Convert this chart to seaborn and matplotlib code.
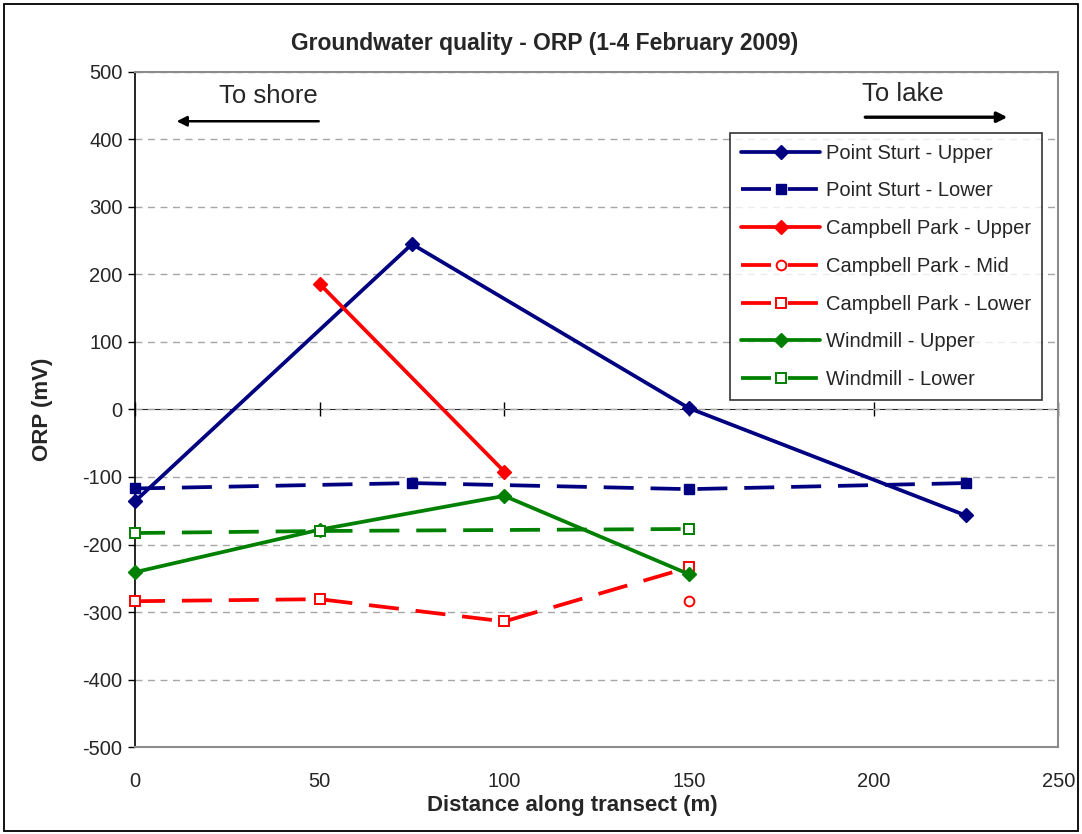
import matplotlib
matplotlib.use('Agg')
import matplotlib.pyplot as plt
import matplotlib.patches as patches
import seaborn as sns
import pandas as pd

# data
ps_upper_x = [0, 75, 150, 225]
ps_upper_y = [-136, 245, 2, -157]
ps_lower_x = [0, 75, 150, 225]
ps_lower_y = [-117, -109, -118, -109]
cp_upper_x = [50, 100]
cp_upper_y = [186, -92]
cp_mid_x = [150]
cp_mid_y = [-284]
cp_lower_x = [0, 50, 100, 150]
cp_lower_y = [-284, -281, -314, -234]
wm_upper_x = [0, 50, 100, 150]
wm_upper_y = [-241, -178, -128, -244]
wm_lower_x = [0, 50, 150]
wm_lower_y = [-183, -180, -177]

NAVY = '#000080'
RED = '#ff0000'
GREEN = '#008000'
DASH = (0, (8, 4.5))

series = [
    ('Point Sturt - Upper', ps_upper_x, ps_upper_y, NAVY, 'D', '-', True),
    ('Point Sturt - Lower', ps_lower_x, ps_lower_y, NAVY, 's', DASH, True),
    ('Campbell Park - Upper', cp_upper_x, cp_upper_y, RED, 'D', '-', True),
    ('Campbell Park - Mid', cp_mid_x, cp_mid_y, RED, 'o', DASH, False),
    ('Campbell Park - Lower', cp_lower_x, cp_lower_y, RED, 's', DASH, False),
    ('Windmill - Upper', wm_upper_x, wm_upper_y, GREEN, 'D', '-', True),
    ('Windmill - Lower', wm_lower_x, wm_lower_y, GREEN, 's', DASH, False),
]

sns.set_style('white')
plt.rcParams['font.family'] = ['Liberation Sans', 'DejaVu Sans']
plt.rcParams['axes.unicode_minus'] = False

fig = plt.figure(figsize=(10.82, 8.34), dpi=100)
ax = fig.add_axes([0.1248, 0.1043, 0.978 - 0.1248, 0.9137 - 0.1043])

for name, xs, ys, col, mk, ls, filled in series:
    df = pd.DataFrame({'x': xs, 'y': ys})
    sns.lineplot(data=df, x='x', y='y', ax=ax, color=col, marker=mk,
                 linestyle=ls, linewidth=2.7, label=name,
                 markersize=7.5 if mk == 'D' else 7,
                 markerfacecolor=col if filled else 'white',
                 markeredgecolor=col, markeredgewidth=1.4 if not filled else 1,
                 estimator=None, errorbar=None, sort=False, zorder=3,
                 clip_on=False)

ax.set_xlim(0, 250)
ax.set_ylim(-500, 500)
ax.set_xticks(range(0, 251, 50))
ax.set_yticks(range(-500, 501, 100))

# dashed gray gridlines
ax.yaxis.grid(True, color='#a6a6a6', linestyle=(0, (5, 4)), linewidth=1)
ax.set_axisbelow(True)

for side in ['top', 'right', 'bottom']:
    ax.spines[side].set_color('#8c8c8c')
    ax.spines[side].set_linewidth(1.5)
ax.spines['left'].set_color('black')
ax.spines['left'].set_linewidth(1.2)

ax.tick_params(axis='y', direction='out', length=5, width=1, color='black',
               left=True, labelsize=14.5, pad=4)
ax.tick_params(axis='x', length=0, labelsize=14.5, pad=18)

# horizontal axis crossing at zero
zero_axis = ax.secondary_xaxis(0.5)
zero_axis.spines['bottom'].set_color('#303030')
zero_axis.spines['bottom'].set_linewidth(1.2)
zero_axis.set_xticks(range(0, 251, 50))
zero_axis.set_xticklabels([])
zero_axis.tick_params(axis='x', direction='inout', length=10, width=1,
                      color='black', labelbottom=False, labeltop=False)

ax.set_xlabel('Distance along transect (m)', fontsize=16, fontweight='bold')
ax.set_ylabel('ORP (mV)', fontsize=16, fontweight='bold')
ax.xaxis.set_label_coords(0.474, -0.071)
ax.yaxis.set_label_coords(-0.089, 0.5)

fig.text(0.503, 0.948, 'Groundwater quality - ORP (1-4 February 2009)',
         ha='center', va='center', fontsize=16.5, fontweight='bold')

# direction notes
ax.text(36, 464, 'To shore', ha='center', va='center', fontsize=18.5)
ax.annotate('', xy=(10.5, 427), xytext=(50.5, 427),
            arrowprops=dict(arrowstyle='-|>', color='black', lw=1.8,
                            mutation_scale=15))
ax.text(208, 467, 'To lake', ha='center', va='center', fontsize=18.5)
ax.annotate('', xy=(237, 433), xytext=(197, 433),
            arrowprops=dict(arrowstyle='-|>', color='black', lw=2.4,
                            mutation_scale=15))

leg = ax.legend(loc='upper left', bbox_to_anchor=(0.675, 0.841),
                bbox_transform=fig.transFigure, fontsize=14.5, frameon=True,
                fancybox=False, edgecolor='black', handlelength=3.9,
                labelspacing=0.93, borderpad=0.55, handletextpad=0.3,
                borderaxespad=0, numpoints=1)
leg.get_frame().set_linewidth(1.2)

# outer chart border
fig.patches.append(patches.Rectangle((0.004, 0.004), 0.992, 0.991,
                                     transform=fig.transFigure, fill=False,
                                     edgecolor='black', linewidth=1.3))

fig.savefig('out.png', dpi=100)
